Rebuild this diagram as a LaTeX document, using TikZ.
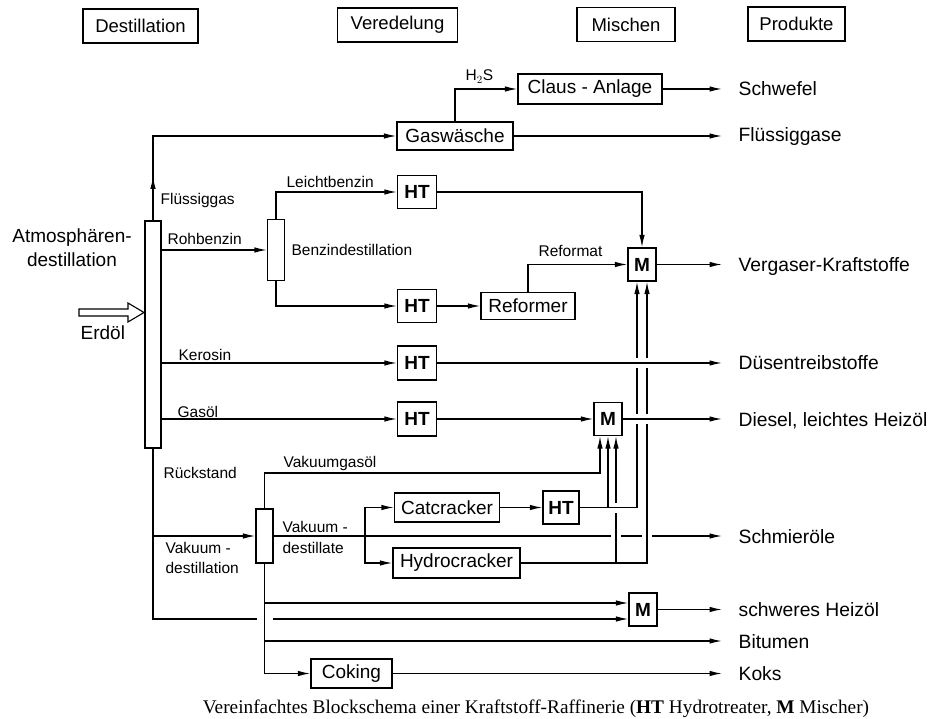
\documentclass[tikz,border=0pt]{standalone}
\usepackage{fontspec}
\setmainfont{Liberation Sans}
\newfontfamily\capfont{Liberation Serif}
\usetikzlibrary{arrows.meta,calc}
\begin{document}
\begin{tikzpicture}[x=1pt,y=-1pt,line width=1.25pt,
  box/.style={draw, inner sep=0pt, font=\fontsize{19}{21}\selectfont},
  bbox/.style={draw, inner sep=0pt, font=\fontsize{19}{21}\selectfont\bfseries},
  colbox/.style={draw, inner sep=0pt},
  hdr/.style={draw, inner sep=0pt, minimum height=34pt, font=\fontsize{18.5}{20}\selectfont},
  lbl/.style={anchor=base west, inner sep=0pt, font=\fontsize{15.5}{17}\selectfont},
  big/.style={inner sep=0pt, font=\fontsize{19}{21}\selectfont},
  prod/.style={anchor=base west, inner sep=0pt, font=\fontsize{19.3}{21}\selectfont},
  arr/.style={-{Latex[length=12.5pt,width=5.5pt]}},
]
\useasboundingbox (0,0) rectangle (932,719);

% headers
\node[hdr, minimum width=115pt] (hdest) at (140.5,26) {Destillation};
\node[hdr, minimum width=120pt] (hver) at (397.5,25) {Veredelung};
\node[hdr, minimum width=98pt] (hmix) at (626,24.5) {Mischen};
\node[hdr, minimum width=97pt] (hprod) at (796.5,24) {Produkte};

% columns
\node[colbox, minimum width=16pt, minimum height=227pt] (atm) at (153,334.5) {};
\node[colbox, minimum width=17pt, minimum height=61pt] (benz) at (276,250) {};
\node[colbox, minimum width=17pt, minimum height=54pt] (vak) at (264.5,536) {};

% boxes
\node[box, minimum width=116pt, minimum height=28pt] (gas) at (455,136) {Gaswäsche};
\node[box, minimum width=144pt, minimum height=30pt] (claus) at (590,89) {Claus - Anlage};
\node[bbox, minimum width=39pt, minimum height=33pt] (ht1) at (417,192) {HT};
\node[bbox, minimum width=39pt, minimum height=33pt] (ht2) at (417,306) {HT};
\node[box, minimum width=94pt, minimum height=27pt] (ref) at (528,306) {Reformer};
\node[bbox, minimum width=28pt, minimum height=33pt] (m1) at (642,264.5) {M};
\node[bbox, minimum width=39pt, minimum height=34pt] (ht4) at (417,363) {HT};
\node[bbox, minimum width=39pt, minimum height=34pt] (ht5) at (417,419) {HT};
\node[bbox, minimum width=28pt, minimum height=33pt] (m2) at (608,419) {M};
\node[box, minimum width=105pt, minimum height=29pt] (cat) at (447,507.5) {Catcracker};
\node[bbox, minimum width=36pt, minimum height=33pt] (ht3) at (561,507.5) {HT};
\node[box, minimum width=127pt, minimum height=30pt] (hyd) at (456.5,563) {Hydrocracker};
\node[bbox, minimum width=28pt, minimum height=33pt] (m3) at (643,609.5) {M};
\node[box, minimum width=81pt, minimum height=29pt] (cok) at (351.5,673.5) {Coking};

% helper coordinates
\coordinate (pend) at (722,0);
\coordinate (a1) at ($(m2.south)+(-8,0)$);
\coordinate (a2) at (m2.south);
\coordinate (a3) at ($(m2.south)+(8,0)$);
\coordinate (b1) at ($(m1.south)+(-5,0)$);
\coordinate (b2) at ($(m1.south)+(5,0)$);
\coordinate (m3hi) at ($(m3.west)+(0,-6.5)$);
\coordinate (m3lo) at ($(m3.west)+(0,9.5)$);
\coordinate (br) at (365,536);
\coordinate (vgc) at (600,473);
\coordinate (bit) at (264.5,641);
\coordinate (etip) at (144,312.5);

% texts
\node[big, anchor=base] (atmt1) at (72,243) {Atmosphären-};
\node[big, anchor=base] (atmt2) at (72,267) {destillation};
\node[big, anchor=base west] (erd) at (80,340) {Erdöl};
\node[lbl] (tfg) at (160,205) {Flüssiggas};
\node[lbl] (troh) at (167,245) {Rohbenzin};
\node[lbl] (tker) at (178,360) {Kerosin};
\node[lbl] (tgas) at (177,417) {Gasöl};
\node[lbl] (tleicht) at (286,188) {Leichtbenzin};
\node[lbl] (tbd) at (291,256) {Benzindestillation};
\node[lbl] (tref) at (538,257) {Reformat};
\node[lbl] (th2s) at (465,81) {H$_2$S};
\node[lbl] (truck) at (163,478) {Rückstand};
\node[lbl] (tvg) at (283,467) {Vakuumgasöl};
\node[lbl] (tvd1) at (165,553) {Vakuum -};
\node[lbl] (tvd2) at (165,573) {destillation};
\node[lbl] (tvde1) at (282,532) {Vakuum -};
\node[lbl] (tvde2) at (282,553) {destillate};

\node[prod] (p1) at (738,96) {Schwefel};
\node[prod] (p2) at (738,142) {Flüssiggase};
\node[prod] (p3) at (738,271.5) {Vergaser-Kraftstoffe};
\node[prod] (p4) at (738,370) {Düsentreibstoffe};
\node[prod] (p5) at (738,426) {Diesel, leichtes Heizöl};
\node[prod] (p6) at (738,543) {Schmieröle};
\node[prod] (p7) at (738,616.5) {schweres Heizöl};
\node[prod] (p8) at (738,648) {Bitumen};
\node[prod] (p9) at (738,680.5) {Koks};

\node[inner sep=0pt, anchor=base, font=\capfont\fontsize{19.3}{21}\selectfont] (cap) at (536,713)
  {Vereinfachtes Blockschema einer Kraftstoff-Raffinerie (\textbf{HT} Hydrotreater, \textbf{M} Mischer)};

% Erdöl feed arrow (hollow)
\draw[line width=1.1pt] (79,309) -- (128,309) -- (128,303) -- (etip) -- (128,322) -- (128,316) -- (79,316) -- cycle;

% top section
\draw[arr] (atm.north) |- (gas.west);
\draw[arr] (atm.north) -- ++(0,-44);
\draw[arr] (gas.north) |- (claus.west);
\draw[arr] (claus.east) -- (claus.east -| pend);
\draw[arr] (gas.east) -- (gas.east -| pend);
\draw[arr] (atm.east |- benz.west) -- (benz.west);
\draw[arr] (benz.north) |- (ht1.west);
\draw[arr] (benz.south) |- (ht2.west);
\draw[arr] (ht2.east) -- (ref.west);
\draw[arr] (ref.north) |- (m1.west);
\draw[arr] (ht1.east) -| (m1.north);
\draw[arr] (m1.east) -- (m1.east -| pend);
\draw[arr] (atm.east |- ht4.west) -- (ht4.west);
\draw[arr] (atm.east |- ht5.west) -- (ht5.west);
\draw[arr] (ht5.east) -- (m2.west);
\draw[arr] (vak.north) |- (vgc) -- (a1);
\draw[arr] (cat.east) -- (ht3.west);
\draw[arr] (br) |- (cat.west);
\draw[arr] (br) |- (hyd.west);
\draw[arr] (atm.south |- vak.west) -- (vak.west);

% step 1: lines broken at crossings
\draw[arr] (vak.east) -- (vak.east -| pend);
\draw[arr] (atm.south) |- (m3lo);
% step 2: gaps in horizontals
\fill[white] (611,534) rectangle (621,538);
\fill[white] (642,534) rectangle (652,538);
\fill[white] (256.5,617) rectangle (272.5,621);
% step 3: verticals
\draw (vak.south) -- (vak.south |- cok.west);
\draw[arr] (vak.south |- m3hi) -- (m3hi);
\draw[arr] (bit) -- (bit -| pend);
\draw[arr] (vak.south |- cok.west) -- (cok.west);
\draw[arr] (cok.east) -- (cok.east -| pend);
\draw[arr] (m3.east) -- (m3.east -| pend);
\draw[arr] (ht3.east) -| (b1);
\draw[arr] (a2 |- ht3.east) -- (a2);
\draw[arr] (hyd.east) -| (b2);
\draw[arr] (a3 |- hyd.east) -- (a3);
% step 4: gaps in verticals
\coordinate (g1) at (b1 |- ht4.east);
\coordinate (g2) at (b2 |- ht4.east);
\coordinate (g3) at (b1 |- m2.east);
\coordinate (g4) at (b2 |- m2.east);
\coordinate (g5) at (a3 |- ht3.east);
\foreach \g in {g1,g2,g3,g4,g5}
  \fill[white] ($(\g)+(-2.5,-5)$) rectangle ($(\g)+(2.5,5)$);
% step 5: continuous horizontals
\draw[arr] (ht4.east) -- (ht4.east -| pend);
\draw[arr] (m2.east) -- (m2.east -| pend);
\draw (ht3.east) -- (ht3.east -| b1);
\end{tikzpicture}
\end{document}
